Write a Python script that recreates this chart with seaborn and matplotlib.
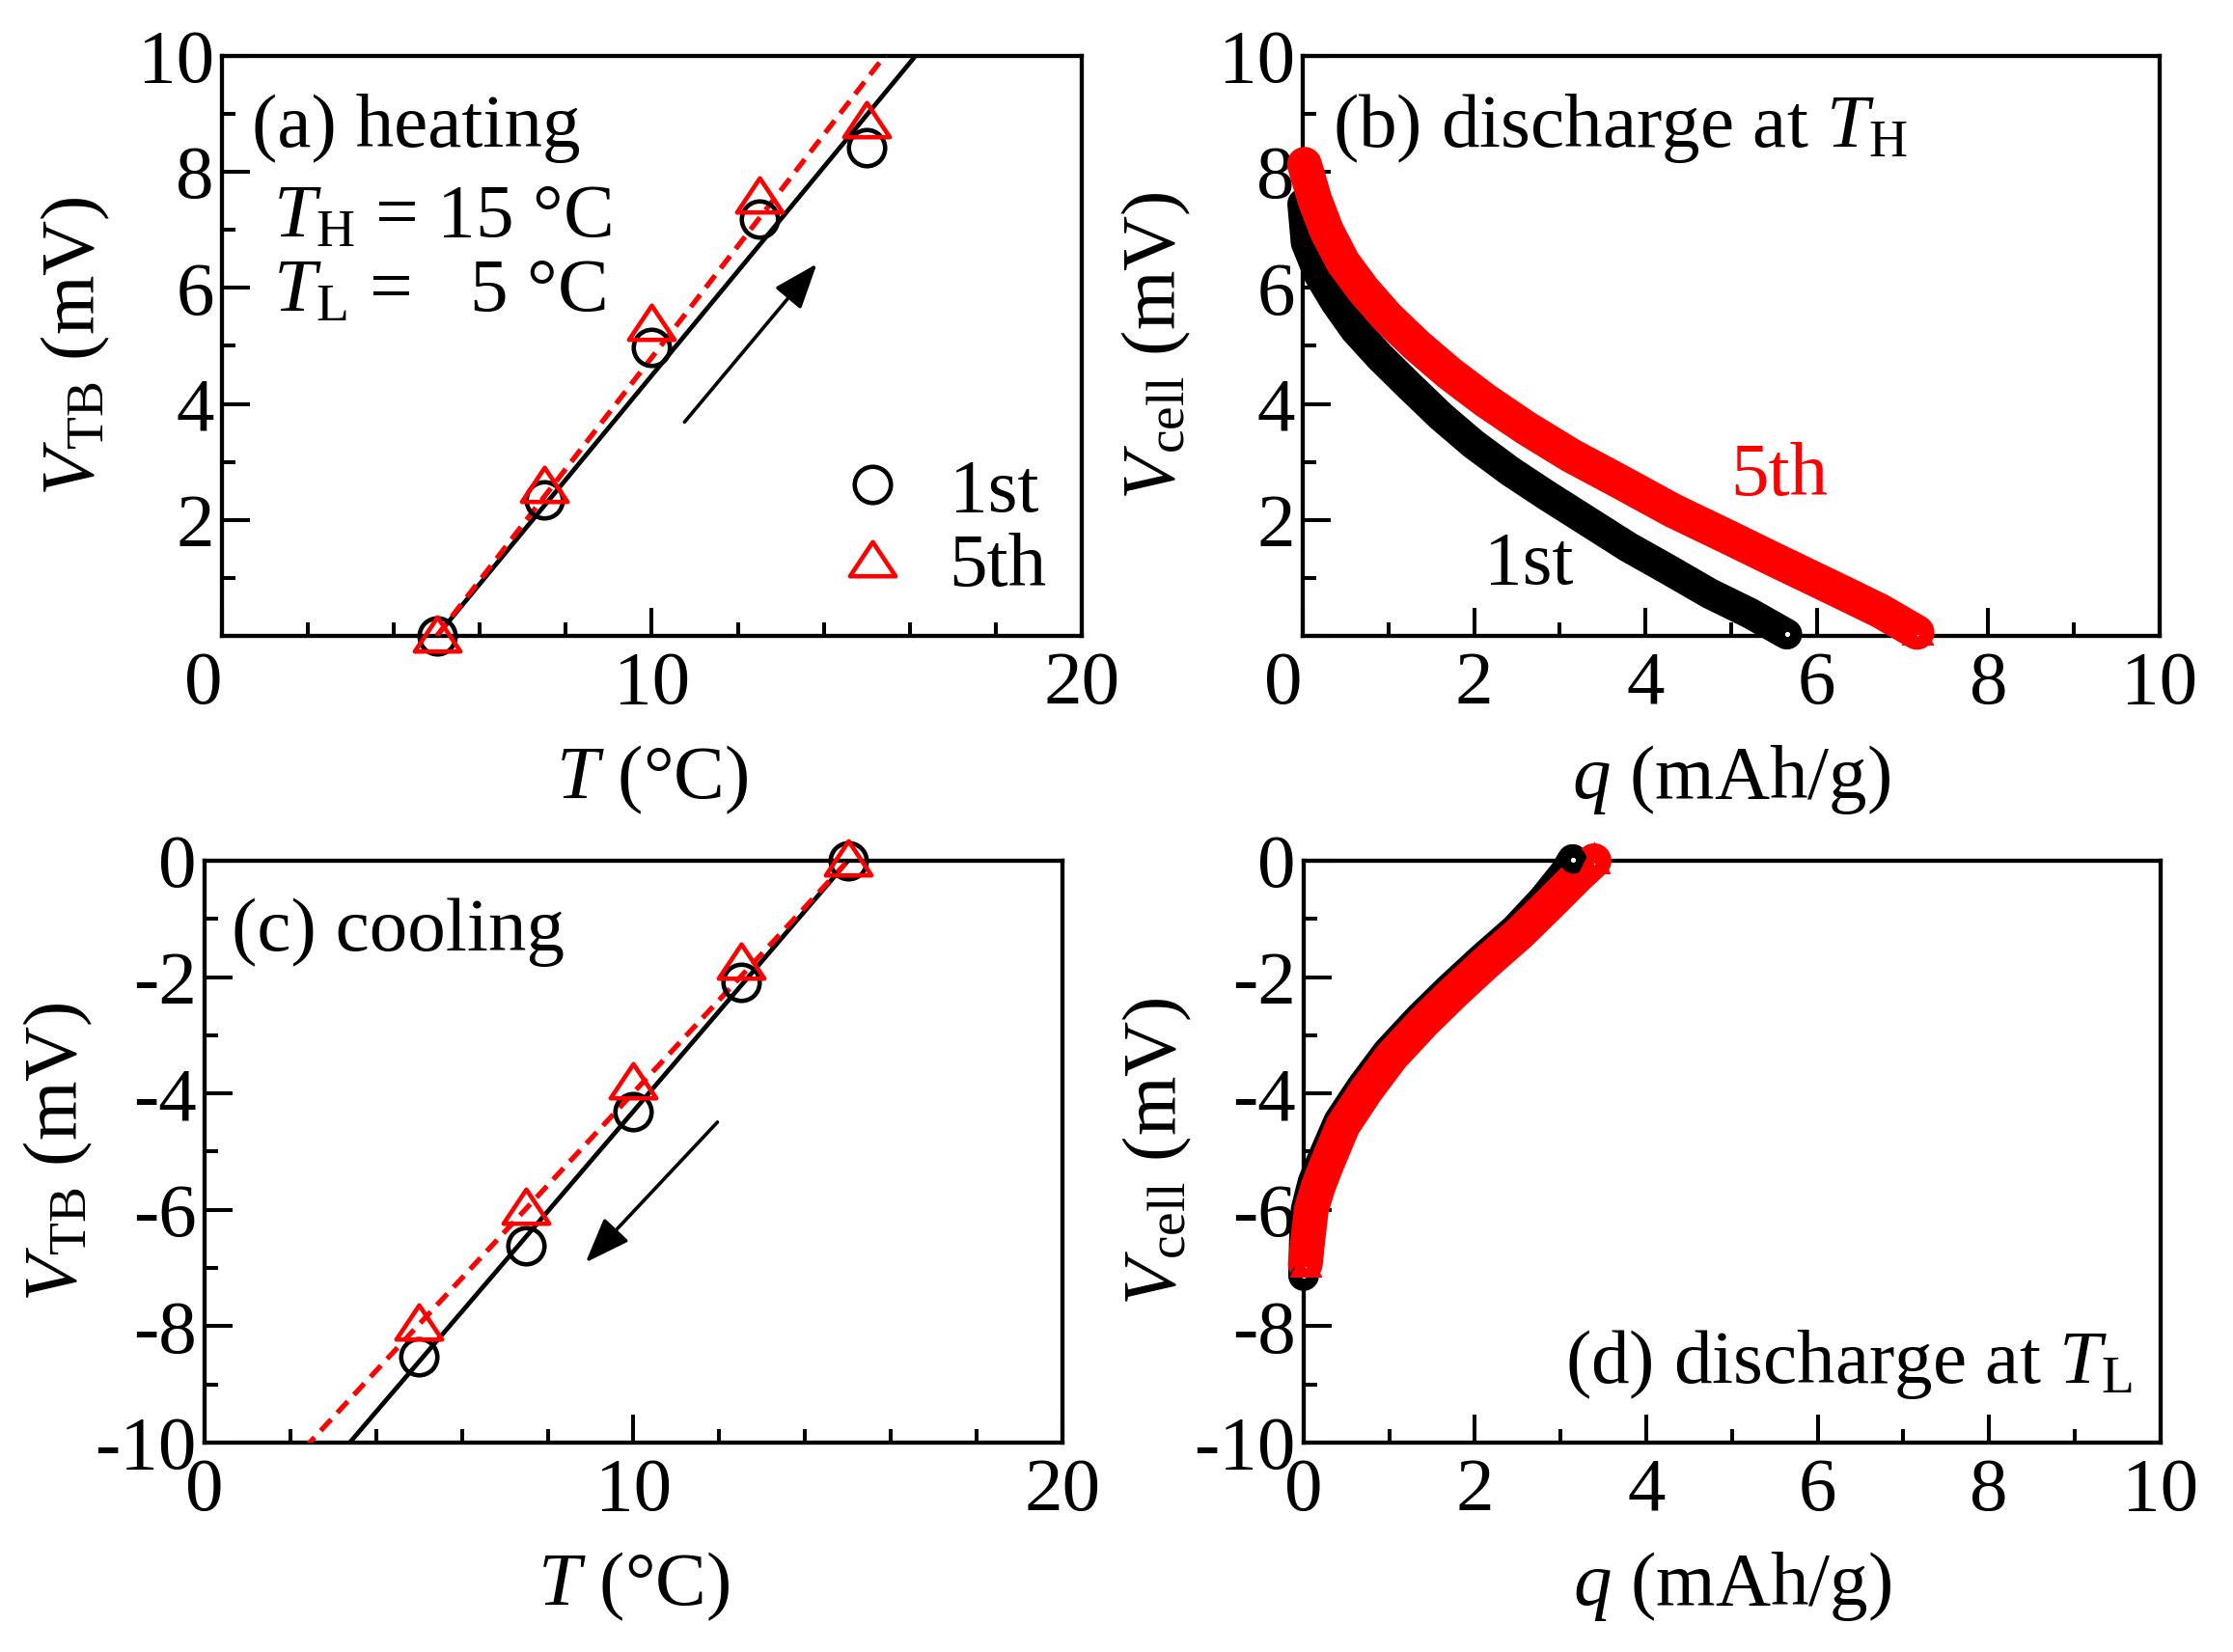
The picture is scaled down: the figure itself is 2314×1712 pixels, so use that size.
import numpy as np
import matplotlib
matplotlib.use("Agg")
import matplotlib.pyplot as plt
import seaborn as sns
from matplotlib.path import Path
from matplotlib.ticker import MultipleLocator, FuncFormatter

# ---- data ----
# (a) heating, (c) cooling: thermal voltage of the battery
heat_T = [5, 7.5, 10, 12.5, 15]
heat_1st = [0.0, 2.34, 4.97, 7.19, 8.41]
heat_5th = [0.04, 2.61, 5.40, 7.60, 8.90]
heat_fit_slope = [0.898, 0.96]      # mV/K, lines through (5 C, 0 mV)

cool_T = [15, 12.5, 10, 7.5, 5]
cool_1st = [0.0, -2.09, -4.31, -6.62, -8.53]
cool_5th = [0.05, -1.72, -3.79, -5.93, -7.92]
cool_fit_slope = [0.861, 0.797]     # mV/K, lines through (15 C, 0 mV)

# (b) discharge at T_H
q_1st_H = [0.00, 0.04, 0.19, 0.38, 0.61, 0.90, 1.23, 1.61, 1.99, 2.42, 2.85,
           3.32, 3.80, 4.27, 4.75, 5.22, 5.65]
v_1st_H = [7.45, 6.78, 6.23, 5.76, 5.28, 4.81, 4.33, 3.79, 3.31, 2.84, 2.42,
           1.98, 1.53, 1.14, 0.73, 0.39, 0.03]
q_5th_H = [0.02, 0.14, 0.28, 0.47, 0.71, 0.99, 1.33, 1.71, 2.13, 2.61, 3.13,
           3.70, 4.32, 4.94, 5.55, 6.17, 6.74, 7.17]
v_5th_H = [8.13, 7.52, 6.98, 6.44, 5.96, 5.49, 5.01, 4.53, 4.06, 3.58, 3.11,
           2.66, 2.16, 1.72, 1.28, 0.84, 0.43, 0.06]

# (d) discharge at T_L
q_1st_L = [0.00, 0.01, 0.03, 0.11, 0.21, 0.41, 0.68, 0.98, 1.36, 1.70, 2.09,
           2.47, 2.80, 3.05, 3.14]
v_1st_L = [-7.13, -6.50, -5.99, -5.52, -5.16, -4.48, -3.88, -3.29, -2.69, -2.20,
           -1.67, -1.18, -0.66, -0.20, 0.02]
q_5th_L = [0.02, 0.05, 0.09, 0.17, 0.27, 0.46, 0.73, 1.03, 1.41, 1.75, 2.14,
           2.52, 2.86, 3.20, 3.39]
v_5th_L = [-6.93, -6.50, -5.99, -5.60, -5.22, -4.55, -3.95, -3.36, -2.76, -2.27,
           -1.74, -1.25, -0.76, -0.26, 0.0]

# ---- style ----
sns.set_style("ticks")
plt.rcParams.update({
    "font.family": "Liberation Serif",
    "mathtext.fontset": "custom",
    "mathtext.rm": "Liberation Serif",
    "mathtext.it": "Liberation Serif:italic",
    "axes.unicode_minus": False,
    "axes.edgecolor": "black",
    "text.color": "black",
    "axes.labelcolor": "black",
    "xtick.color": "black",
    "ytick.color": "black",
})
FS = 57
RED = "#ff0000"
tri = Path([(-1, -0.75), (1, -0.75), (0, 0.75), (0, 0)], closed=True)

fig = plt.figure(figsize=(23.14, 17.12), dpi=100)
ax_a = fig.add_axes([0.0994, 0.6151, 0.3850, 0.3511])
ax_b = fig.add_axes([0.5834, 0.6151, 0.3837, 0.3511])
ax_c = fig.add_axes([0.0916, 0.1268, 0.3842, 0.3522])
ax_d = fig.add_axes([0.5838, 0.1268, 0.3837, 0.3522])


def style(ax, xmax, xmaj, xmin, ylo, yhi, hide_y0, xlabel, ylabel):
    ax.set_xlim(0, xmax)
    ax.set_ylim(ylo, yhi)
    ax.xaxis.set_major_locator(MultipleLocator(xmaj))
    ax.xaxis.set_minor_locator(MultipleLocator(xmin))
    ax.yaxis.set_major_locator(MultipleLocator(2))
    ax.yaxis.set_minor_locator(MultipleLocator(1))
    ax.xaxis.set_major_formatter(FuncFormatter(lambda v, p: f"{v:g}"))
    if hide_y0:
        ax.yaxis.set_major_formatter(FuncFormatter(lambda v, p: "" if abs(v) < 1e-9 else f"{v:g}"))
    else:
        ax.yaxis.set_major_formatter(FuncFormatter(lambda v, p: f"{v:g}"))
    ax.tick_params(which="both", direction="in", top=False, right=False,
                   width=2.9, labelsize=FS)
    ax.tick_params(which="major", length=21)
    ax.tick_params(which="minor", length=10)
    ax.tick_params(axis="x", which="both", pad=11)
    ax.tick_params(axis="y", which="both", pad=6)
    for sp in ax.spines.values():
        sp.set_visible(True)
        sp.set_linewidth(3.1)
        sp.set_color("black")
    ax.set_xlabel(xlabel, fontsize=FS)
    ax.set_ylabel(ylabel, fontsize=FS)
    ax.xaxis.set_label_coords(0.5, -0.185)
    ax.yaxis.set_label_coords(-0.128, 0.5)


def points(ax, x, y, marker, color, ms, label):
    sns.lineplot(x=x, y=y, ax=ax, marker=marker, ms=ms, mfc="none", mec=color,
                 mew=3.3, linestyle="none", sort=False, estimator=None,
                 errorbar=None, clip_on=False, zorder=4, label=label)
    return ax.lines[-1]


def band(ax, x, y, color, width, z):
    sns.lineplot(x=x, y=y, ax=ax, color=color, sort=False, estimator=None,
                 errorbar=None, clip_on=False, zorder=z,
                 solid_capstyle="round", solid_joinstyle="round")
    ax.lines[-1].set_linewidth(width)


def fit(ax, x, y, color, width, ls, z):
    sns.lineplot(x=x, y=y, ax=ax, color=color, linestyle=ls, sort=False,
                 estimator=None, errorbar=None, zorder=z)
    ax.lines[-1].set_linewidth(width)


def end_mark(ax, x, y, marker, color):
    sns.lineplot(x=x, y=y, ax=ax, marker=marker, ms=12, mfc="white", mec=color,
                 mew=8, linestyle="none", sort=False, estimator=None,
                 errorbar=None, clip_on=False, zorder=5)


arrow_kw = dict(arrowstyle="-|>,head_length=0.8,head_width=0.3",
                color="black", lw=2.6, mutation_scale=36)

# ---- (a) heating ----
T_line = np.array([5.0, 17.0])
fit(ax_a, T_line, heat_fit_slope[0] * (T_line - 5), "black", 3.4, "-", 2)
fit(ax_a, T_line, heat_fit_slope[1] * (T_line - 5), RED, 3.8, (0, (3, 1.8)), 3)
h1 = points(ax_a, heat_T, heat_1st, "o", "black", 27, "1st")
h5 = points(ax_a, heat_T, heat_5th, tri, RED, 34, "5th")
ax_a.legend([h1, h5], ["1st", "5th"], loc="lower right", bbox_to_anchor=(0.995, 0.006),
            frameon=False, fontsize=FS, handlelength=1.0, handletextpad=0.5,
            labelspacing=0.06, borderaxespad=0.0, borderpad=0.4)
ax_a.annotate("", xy=(13.88, 6.45), xytext=(10.72, 3.65), arrowprops=arrow_kw)
ax_a.text(0.035, 0.844, "(a) heating", transform=ax_a.transAxes, fontsize=FS, va="baseline")
ax_a.text(0.060, 0.689, r"$T_{\mathrm{H}}$ = 15 °C", transform=ax_a.transAxes,
          fontsize=FS, va="baseline")
ax_a.text(0.060, 0.560, r"$T_{\mathrm{L}}$ =   5 °C", transform=ax_a.transAxes,
          fontsize=FS, va="baseline")
style(ax_a, 20, 10, 2, 0, 10, True, r"$T$ (°C)", r"$V_{\mathrm{TB}}$ (mV)")

# ---- (b) discharge at T_H ----
band(ax_b, q_1st_H, v_1st_H, "black", 23, 2)
band(ax_b, q_5th_H, v_5th_H, RED, 26, 3)
end_mark(ax_b, q_1st_H[-1:], v_1st_H[-1:], "o", "black")
end_mark(ax_b, q_5th_H[-1:], v_5th_H[-1:], "^", RED)
ax_b.text(4.99, 2.43, "5th", color=RED, fontsize=FS, va="baseline")
ax_b.text(2.12, 0.90, "1st", color="black", fontsize=FS, va="baseline")
ax_b.text(0.035, 0.844, r"(b) discharge at $T_{\mathrm{H}}$", transform=ax_b.transAxes,
          fontsize=FS, va="baseline")
style(ax_b, 10, 2, 1, 0, 10, True, r"$q$ (mAh/g)", r"$V_{\mathrm{cell}}$ (mV)")

# ---- (c) cooling ----
T_line_c = np.array([0.0, 15.0])
fit(ax_c, T_line_c, cool_fit_slope[0] * (T_line_c - 15), "black", 3.4, "-", 2)
fit(ax_c, T_line_c, cool_fit_slope[1] * (T_line_c - 15), RED, 3.8, (0, (3, 1.8)), 3)
points(ax_c, cool_T, cool_1st, "o", "black", 27, None)
points(ax_c, cool_T, cool_5th, tri, RED, 34, None)
ax_c.annotate("", xy=(8.84, -6.94), xytext=(12.0, -4.46), arrowprops=arrow_kw)
ax_c.text(0.032, 0.846, "(c) cooling", transform=ax_c.transAxes, fontsize=FS, va="baseline")
style(ax_c, 20, 10, 2, -10, 0, False, r"$T$ (°C)", r"$V_{\mathrm{TB}}$ (mV)")

# ---- (d) discharge at T_L ----
band(ax_d, q_1st_L, v_1st_L, "black", 23, 2)
band(ax_d, q_5th_L, v_5th_L, RED, 26, 3)
end_mark(ax_d, [q_1st_L[0], q_1st_L[-1]], [v_1st_L[0], v_1st_L[-1]], "o", "black")
end_mark(ax_d, [q_5th_L[0], q_5th_L[-1]], [v_5th_L[0], v_5th_L[-1]], "^", RED)
ax_d.text(0.968, 0.103, r"(d) discharge at $T_{\mathrm{L}}$", transform=ax_d.transAxes,
          fontsize=FS, ha="right", va="baseline")
style(ax_d, 10, 2, 1, -10, 0, False, r"$q$ (mAh/g)", r"$V_{\mathrm{cell}}$ (mV)")

for ax in (ax_b, ax_c, ax_d):
    leg = ax.get_legend()
    if leg is not None:
        leg.remove()

# the "0" under the origin sits left of the spine where the y axis has no 0 label
fig.canvas.draw()
for ax in (ax_a, ax_b):
    for t in ax.xaxis.get_major_ticks():
        if abs(t.get_loc()) < 1e-9:
            t.label1.set_horizontalalignment("right")

fig.savefig("out.png", dpi=100)
